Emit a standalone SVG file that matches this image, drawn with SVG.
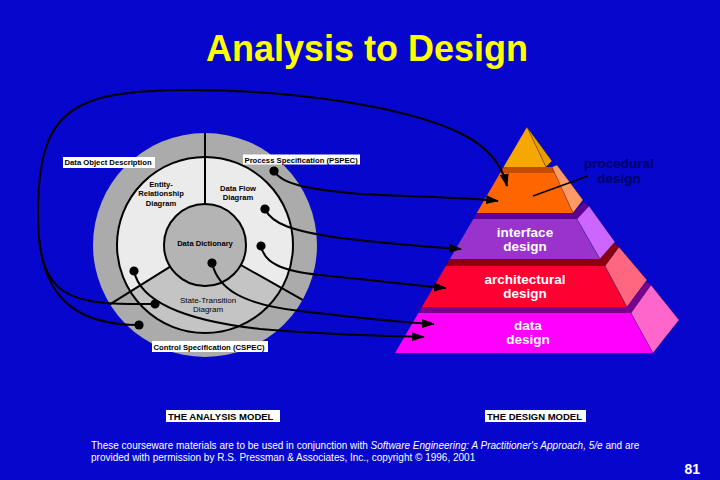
<svg xmlns="http://www.w3.org/2000/svg" width="720" height="480" viewBox="0 0 720 480">
<style>
text { font-family: "Liberation Sans", Arial, sans-serif; }
.lbl { font-size: 7.7px; font-weight: bold; fill: #000; }
.lblc { font-size: 7.6px; font-weight: bold; fill: #000; text-anchor: middle; }
.lbln { font-size: 8px; fill: #000; text-anchor: middle; }
.box { fill: #fff; }
.con { fill: none; stroke: #000; stroke-width: 2; }
.pl { font-size: 13.5px; font-weight: bold; fill: #fff; text-anchor: middle; }
.pd { font-size: 13.5px; font-weight: bold; fill: #000066; text-anchor: middle; }
.side { stroke: #000; stroke-width: 0.6; stroke-opacity: 0.5; }
.mdl { font-size: 9.5px; font-weight: bold; fill: #000; }
.foot { font-size: 10px; fill: #fff; }
</style>
<defs>
<marker id="arr" markerUnits="userSpaceOnUse" markerWidth="14" markerHeight="10" refX="12" refY="4.5" orient="auto">
<path d="M0,0 L13,4.5 L0,9 Z" fill="#000"/>
</marker>
<marker id="dot" markerUnits="userSpaceOnUse" markerWidth="10" markerHeight="10" refX="5" refY="5" orient="auto">
<circle cx="5" cy="5" r="4.6" fill="#000"/>
</marker>
</defs>
<rect width="720" height="480" fill="#0606CC"/>
<text x="367" y="61" font-size="36" font-weight="bold" fill="#FFFF00" text-anchor="middle">Analysis to Design</text>

<g id="analysis-model">
<circle cx="205" cy="245" r="112" fill="#ABABAB"/>
<circle cx="205" cy="245" r="88" fill="#EBEBEB"/>
<path d="M205,245 L130.3,291.6 A88,88 0 0 0 281.7,288 Z" fill="#C4C4C4"/>
<circle cx="205" cy="245" r="88" fill="none" stroke="#000" stroke-width="2"/>
<line x1="205" y1="133" x2="205" y2="204" stroke="#000" stroke-width="2"/>
<line x1="170.2" y1="266.7" x2="109.9" y2="304.3" stroke="#000" stroke-width="2"/>
<line x1="240.8" y1="265" x2="302.6" y2="299.8" stroke="#000" stroke-width="2"/>
<g id="data-dictionary">
<circle cx="205" cy="245" r="41" fill="#B4B4B4" stroke="#000" stroke-width="2"/>
<text class="lblc" x="205" y="246">Data Dictionary</text>
</g>
<g id="erd">
<text class="lblc" x="161" y="187">Entity-</text>
<text class="lblc" x="161" y="196">Relationship</text>
<text class="lblc" x="161" y="205.5">Diagram</text>
</g>
<g id="dfd">
<text class="lblc" x="238" y="190.5">Data Flow</text>
<text class="lblc" x="238" y="199.5">Diagram</text>
</g>
<g id="std">
<text class="lbln" x="208" y="303">State-Transition</text>
<text class="lbln" x="208" y="312">Diagram</text>
</g>
</g>

<g id="data-object-description">
<rect class="box" x="63" y="157" width="92" height="11"/>
<text class="lbl" x="64.5" y="165.3">Data Object Description</text>
</g>
<g id="pspec">
<rect class="box" x="243" y="154.5" width="117" height="10"/>
<text class="lbl" x="244.5" y="162.5">Process Specification (PSPEC)</text>
</g>
<g id="cspec">
<rect class="box" x="152" y="341" width="116" height="11"/>
<text class="lbl" x="153.5" y="349.5">Control Specification (CSPEC)</text>
</g>

<g id="design-model">
<g id="pyramid-apex">
<polygon points="527,127 546,167 503.6,167" fill="#F7A800"/>
<polygon class="side" points="527,127 552,161 546,167" fill="#E89E00"/>
</g>
<g id="procedural-design">
<polygon points="503.6,167 552,167 555,173 500.1,173" fill="#C44D00"/>
<polygon points="500.1,173 555,173 573,213 476.8,213" fill="#FF6600"/>
<polygon class="side" points="552,167 557,165 583,200 573,213" fill="#FF9966"/>
<text class="pd" x="619" y="167.5">procedural</text>
<text class="pd" x="619" y="182.5">design</text>
<line x1="588" y1="176" x2="533" y2="196" stroke="#000" stroke-width="1.6"/>
</g>
<g id="interface-design">
<polygon points="476.8,213 573,213 584,202 589,206 577,219 473.3,219" fill="#5E0096"/>
<polygon points="473.3,219 577,219 600,259 449.9,259" fill="#9933CC"/>
<polygon class="side" points="577,219 589,206 615,242 600,259" fill="#CC66FF"/>
<text class="pl" x="525" y="236.5">interface</text>
<text class="pl" x="525" y="251">design</text>
</g>
<g id="architectural-design">
<polygon points="449.9,259 600,259 614,243 619,247 605,266 445.8,266" fill="#8A0010"/>
<polygon points="445.8,266 605,266 627,307 421.9,307" fill="#FF0033"/>
<polygon class="side" points="605,266 619,247 647,280 627,307" fill="#FF6680"/>
<text class="pl" x="525" y="283.5">architectural</text>
<text class="pl" x="525" y="298">design</text>
</g>
<g id="data-design">
<polygon points="421.9,307 627,307 646,282 651,285 631,313 418.4,313" fill="#7A0090"/>
<polygon points="418.4,313 631,313 653,353 395,353" fill="#FF00FF"/>
<polygon class="side" points="631,313 651,285 679,320 653,353" fill="#FF66CC"/>
<text class="pl" x="528" y="329.5">data</text>
<text class="pl" x="528" y="344">design</text>
</g>
</g>

<g id="connectors">
<path class="con" marker-start="url(#dot)" marker-end="url(#arr)" d="M155,304 C70,305 38,300 38,215 C38,110 70,90 190,90 C300,90 410,108 462,134 C488,147 502,165 507,186"/>
<path class="con" marker-start="url(#dot)" d="M139,325 C85,325 45,305 39,238"/>
<path class="con" marker-start="url(#dot)" marker-end="url(#arr)" d="M274,171 C282,184 305,189 360,194 C420,197 470,198 498,201"/>
<path class="con" marker-start="url(#dot)" marker-end="url(#arr)" d="M265,209 C272,224 292,231 340,238 C390,244 430,247 461,249"/>
<path class="con" marker-start="url(#dot)" marker-end="url(#arr)" d="M261,246 C264,262 280,271 320,275 C380,281 420,286 446,288"/>
<path class="con" marker-start="url(#dot)" marker-end="url(#arr)" d="M212,263 C218,288 240,304 300,311 C360,318 410,323 434,324"/>
<path class="con" marker-start="url(#dot)" marker-end="url(#arr)" d="M134,271 C140,300 180,320 260,329 C330,335 390,336 424,337"/>
</g>

<g id="analysis-model-label">
<rect class="box" x="166" y="410" width="114" height="12"/>
<text class="mdl" x="168" y="419.5">THE ANALYSIS MODEL</text>
</g>
<g id="design-model-label">
<rect class="box" x="485" y="410" width="101" height="12"/>
<text class="mdl" x="487" y="419.5">THE DESIGN MODEL</text>
</g>

<text class="foot" x="91" y="449">These courseware materials are to be used in conjunction with <tspan font-style="italic">Software Engineering: A Practitioner's Approach, 5/e</tspan> and are</text>
<text class="foot" x="91" y="461">provided with permission by R.S. Pressman &amp; Associates, Inc., copyright © 1996, 2001</text>
<text x="700" y="474" font-size="14" font-weight="bold" fill="#fff" text-anchor="end">81</text>
</svg>
